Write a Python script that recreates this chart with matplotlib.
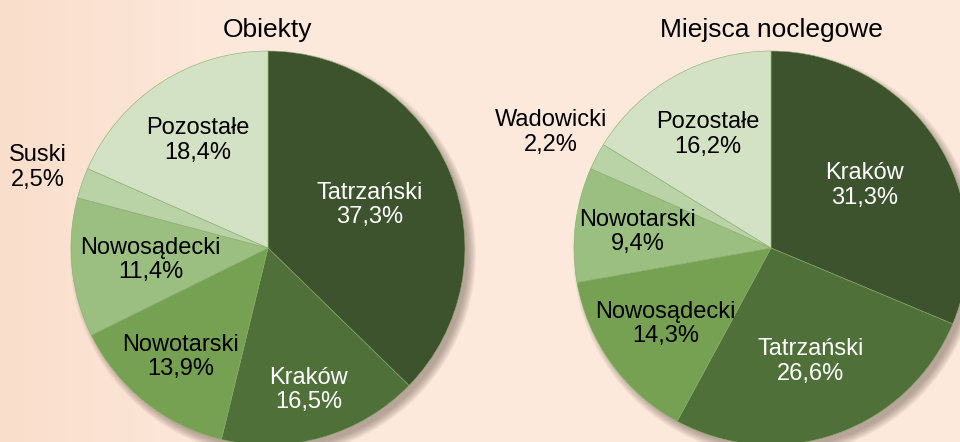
import numpy as np
import matplotlib
matplotlib.use('Agg')
from matplotlib import pyplot as plt
from matplotlib.patches import Circle

plt.rcParams['font.family'] = ['Liberation Sans', 'DejaVu Sans']

# Dane
tytuly = ['Obiekty', 'Miejsca noclegowe']
etykiety_obiekty = ['Tatrzański', 'Kraków', 'Nowotarski', 'Nowosądecki', 'Suski', 'Pozostałe']
udzialy_obiekty = [37.3, 16.5, 13.9, 11.4, 2.5, 18.4]
etykiety_miejsca = ['Kraków', 'Tatrzański', 'Nowosądecki', 'Nowotarski', 'Wadowicki', 'Pozostałe']
udzialy_miejsca = [31.3, 26.6, 14.3, 9.4, 2.2, 16.2]

# Wygląd
kolory = ['#3d532d', '#50703a', '#76a052', '#9bbf80', '#b9d3a6', '#d3e2c4']
kolory_tekstu = ['white', 'white', 'black', 'black', 'black', 'black']
odl_obiekty = [0.56, 0.75, 0.71, 0.6, 1.24, 0.65]
odl_miejsca = [0.57, 0.61, 0.66, 0.68, 1.26, 0.66]
R = 197

fig = plt.figure(figsize=(9.6, 4.42), dpi=100)
ax = fig.add_axes([0, 0, 1, 1])
ax.set_xlim(0, 960)
ax.set_ylim(0, 442)
ax.set_aspect('equal')
ax.axis('off')

# Tło - delikatny gradient
xx = np.linspace(0, 1, 200)
t = np.clip(xx / 0.25, 0, 1)
c0 = np.array([250, 222, 204]) / 255
c1 = np.array([253, 233, 219]) / 255
grad = c0[None, :] * (1 - t[:, None]) + c1[None, :] * t[:, None]
ax.imshow(grad[None, :, :], extent=[0, 960, 0, 442], aspect='auto', zorder=0)


def rysuj(cx, cy, wartosci, etykiety, odleglosci, tytul):
    # cień
    for k in range(10):
        ax.add_patch(Circle((cx + 5, cy - 6), R + 6 - k * 0.9, color='#6b5a50',
                            alpha=0.06, lw=0, zorder=1))
    wedges, _ = ax.pie(wartosci, colors=kolory, startangle=90, counterclock=False,
                       center=(cx, cy), radius=R,
                       wedgeprops=dict(edgecolor='#8aae6c', linewidth=0.4))
    for w in wedges:
        w.set_zorder(2)
    for i, w in enumerate(wedges):
        kat = np.deg2rad((w.theta1 + w.theta2) / 2)
        x = cx + odleglosci[i] * R * np.cos(kat)
        y = cy + odleglosci[i] * R * np.sin(kat)
        tekst = f'{etykiety[i]}\n{wartosci[i]:.1f}%'.replace('.', ',')
        ax.text(x, y, tekst, ha='center', va='center', fontsize=17,
                color=kolory_tekstu[i], linespacing=1.15, zorder=3)
    ax.text(cx, 442 - 30, tytul, ha='center', va='center', fontsize=19, zorder=3)


rysuj(268, 442 - 248, udzialy_obiekty, etykiety_obiekty, odl_obiekty, tytuly[0])
rysuj(771, 442 - 248, udzialy_miejsca, etykiety_miejsca, odl_miejsca, tytuly[1])

ax.set_xlim(0, 960)
ax.set_ylim(0, 442)
fig.savefig('out.png', dpi=100)
